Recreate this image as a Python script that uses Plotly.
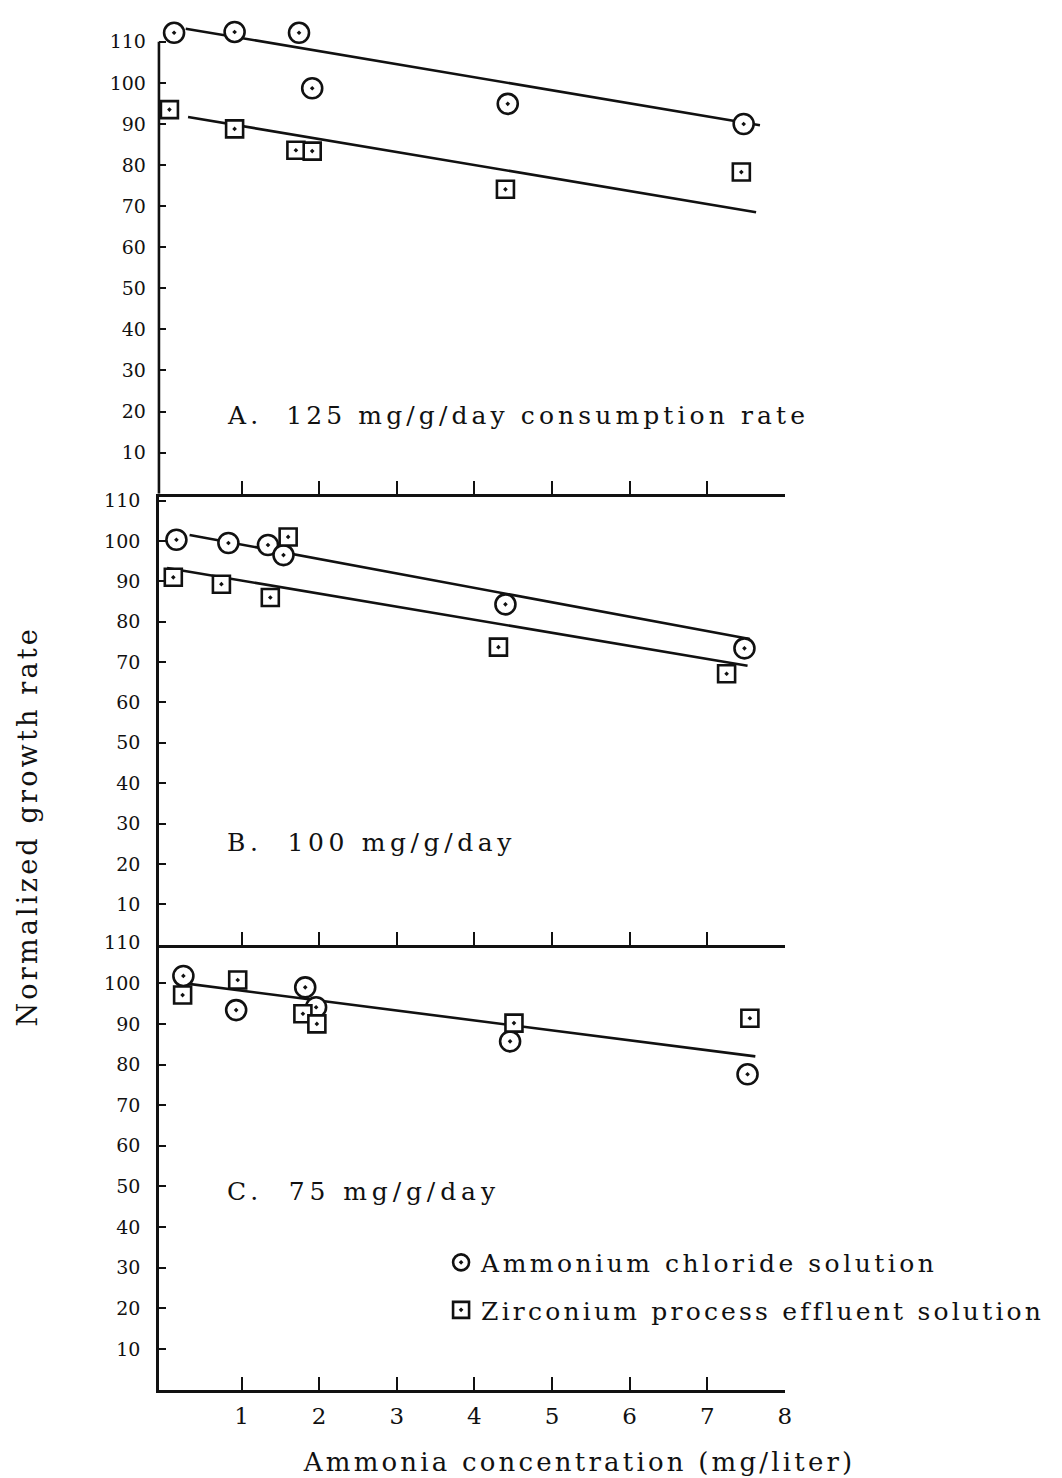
import json
import plotly.graph_objects as go

# ---------------------------------------------------------------
# Data (ammonia concentration in mg/liter vs normalized growth rate)
# ---------------------------------------------------------------
# A. 125 mg/g/day consumption rate
a_cl_x = [0.13, 0.91, 1.74, 1.91, 4.43, 7.47]
a_cl_y = [112.2, 112.4, 112.2, 98.7, 94.9, 90.0]
a_zr_x = [0.07, 0.91, 1.70, 1.91, 4.40, 7.44]
a_zr_y = [93.5, 88.8, 83.6, 83.4, 74.1, 78.3]
a_cl_fit_x = [0.28, 7.68]
a_cl_fit_y = [113.2, 89.7]
a_zr_fit_x = [0.31, 7.63]
a_zr_fit_y = [91.7, 68.5]

# B. 100 mg/g/day
b_cl_x = [0.16, 0.83, 1.34, 1.54, 4.40, 7.48]
b_cl_y = [100.3, 99.5, 99.0, 96.5, 84.3, 73.4]
b_zr_x = [0.12, 0.74, 1.37, 1.60, 4.31, 7.25]
b_zr_y = [91.0, 89.3, 86.0, 101.0, 73.7, 67.1]
b_cl_fit_x = [0.33, 7.55]
b_cl_fit_y = [101.5, 75.7]
b_zr_fit_x = [0.04, 7.52]
b_zr_fit_y = [93.3, 69.1]

# C. 75 mg/g/day
c_cl_x = [0.25, 0.93, 1.82, 1.96, 4.46, 7.52]
c_cl_y = [101.8, 93.4, 99.0, 94.1, 85.7, 77.6]
c_zr_x = [0.24, 0.95, 1.79, 1.97, 4.51, 7.55]
c_zr_y = [97.1, 100.8, 92.5, 90.0, 90.2, 91.4]
c_fit_x = [0.22, 7.62]
c_fit_y = [100.1, 82.0]

x_ticks = [1, 2, 3, 4, 5, 6, 7, 8]
y_ticks = [10, 20, 30, 40, 50, 60, 70, 80, 90, 100, 110]

panel_titles = ["A.  125 mg/g/day consumption rate",
                "B.  100 mg/g/day",
                "C.  75 mg/g/day"]
series_names = ["Ammonium chloride solution",
                "Zirconium process effluent solution"]
y_title = "Normalized growth rate"
x_title = "Ammonia concentration (mg/liter)"

# ---------------------------------------------------------------
# Page geometry (pixels)
# ---------------------------------------------------------------
W, H = 1062, 1478
X_LEFT, X_RIGHT = 160, 790
X_RANGE = [-0.065, 8.0]
# (pixel row of y=0, pixel row of panel top, pixels per unit)
panel_geom = [(487, 5, 4.136), (941, 487, 4.064), (1389, 938, 4.091)]

SERIF = "DejaVu Serif"
INK = "#111111"


def py(px):
    return 1 - px / H


fig = go.Figure()

circle_marker = dict(symbol="circle-dot", size=20, color="white",
                     line=dict(color=INK, width=2.6))
square_marker = dict(symbol="square-dot", size=17, color="white",
                     line=dict(color=INK, width=2.6))
fit_line = dict(color=INK, width=2.6)

panels = [
    (a_cl_x, a_cl_y, a_zr_x, a_zr_y,
     [(a_cl_fit_x, a_cl_fit_y), (a_zr_fit_x, a_zr_fit_y)]),
    (b_cl_x, b_cl_y, b_zr_x, b_zr_y,
     [(b_cl_fit_x, b_cl_fit_y), (b_zr_fit_x, b_zr_fit_y)]),
    (c_cl_x, c_cl_y, c_zr_x, c_zr_y,
     [(c_fit_x, c_fit_y)]),
]

for i, (clx, cly, zrx, zry, fits) in enumerate(panels):
    xa = "x" if i == 0 else f"x{i + 1}"
    ya = "y" if i == 0 else f"y{i + 1}"
    last = i == len(panels) - 1
    for fx, fy in fits:
        fig.add_trace(go.Scatter(x=fx, y=fy, mode="lines", line=fit_line,
                                 xaxis=xa, yaxis=ya, showlegend=False,
                                 hoverinfo="skip"))
    fig.add_trace(go.Scatter(x=clx, y=cly, mode="markers",
                             marker=circle_marker, xaxis=xa, yaxis=ya,
                             name=series_names[0], legendgroup="cl",
                             showlegend=last, cliponaxis=False))
    fig.add_trace(go.Scatter(x=zrx, y=zry, mode="markers",
                             marker=square_marker, xaxis=xa, yaxis=ya,
                             name=series_names[1], legendgroup="zr",
                             showlegend=last, cliponaxis=False))

layout = dict(
    width=W, height=H,
    margin=dict(l=0, r=0, t=0, b=0),
    paper_bgcolor="white", plot_bgcolor="rgba(0,0,0,0)",
    font=dict(family=SERIF, color=INK),
    legend=dict(x=444 / W, y=py(1238), xanchor="left", yanchor="top",
                font=dict(family=SERIF, size=25, color=INK),
                tracegroupgap=12, bgcolor="rgba(0,0,0,0)"),
)

for i, (zero, top, ppu) in enumerate(panel_geom):
    sfx = "" if i == 0 else str(i + 1)
    last = i == len(panel_geom) - 1
    layout[f"xaxis{sfx}"] = dict(
        domain=[X_LEFT / W, X_RIGHT / W], range=X_RANGE,
        anchor=f"y{sfx}", showgrid=False, zeroline=False,
        showline=True, linecolor=INK, linewidth=2.6,
        ticks="inside", ticklen=13, tickwidth=2.2, tickcolor=INK,
        tickvals=x_ticks, showticklabels=last,
        tickfont=dict(family=SERIF, size=23, color=INK),
        ticklabelstandoff=4,
    )
    layout[f"yaxis{sfx}"] = dict(
        domain=[py(zero), py(top)], range=[0, (zero - top) / ppu],
        anchor=f"x{sfx}", showgrid=False, zeroline=False,
        showline=(i > 0), linecolor=INK, linewidth=2.6,
        ticks="inside", ticklen=7, tickwidth=2, tickcolor=INK,
        tickvals=y_ticks,
        tickfont=dict(family=SERIF, size=19, color=INK),
        ticklabelstandoff=12,
    )

fig.update_layout(**layout)

# vertical axis line of the top panel stops at its 110 mark
fig.add_shape(type="line", xref="paper", yref="y", x0=X_LEFT / W,
              x1=X_LEFT / W, y0=0, y1=110,
              line=dict(color=INK, width=2.6))

# panel captions
caption_rows = [408, 838, 1190]
for title, row in zip(panel_titles, caption_rows):
    fig.add_annotation(text=title, xref="paper", yref="paper",
                       x=226 / W, y=py(row), xanchor="left", yanchor="middle",
                       align="left", showarrow=False,
                       font=dict(family=SERIF, size=25, color=INK))

# axis titles
fig.add_annotation(text=y_title, xref="paper", yref="paper",
                   x=28 / W, y=py(822), textangle=-90, showarrow=False,
                   xanchor="center", yanchor="middle",
                   font=dict(family=SERIF, size=27, color=INK))
fig.add_annotation(text=x_title, xref="paper",
                   yref="paper", x=583 / W, y=py(1462), showarrow=False,
                   xanchor="center", yanchor="middle",
                   font=dict(family=SERIF, size=26, color=INK))

# typewriter-style letter spacing for the text labels (px)
letter_spacing = {
    panel_titles[0]: 4.1,
    panel_titles[1]: 4.6,
    panel_titles[2]: 4.9,
    series_names[0]: 3.5,
    series_names[1]: 3.2,
    y_title: 3.2,
    x_title: 3.2,
}
spacing_js = json.dumps({" ".join(k.split()): v
                         for k, v in letter_spacing.items()})
post_script = """
var gd = document.getElementById('{plot_id}');
var sp = %s;
gd.querySelectorAll('text.annotation-text, text.legendtext').forEach(function (t) {
    var key = t.textContent.replace(/\\s+/g, ' ').trim();
    if (sp[key] !== undefined) { t.style.letterSpacing = sp[key] + 'px'; }
});
// the widened legend text must not be clipped by the legend box
gd.querySelectorAll('.legend [clip-path], .legend[clip-path]').forEach(function (e) {
    e.removeAttribute('clip-path');
});
gd.querySelectorAll('.legend rect.bg').forEach(function (r) {
    r.setAttribute('width', '610');
});
""" % spacing_js

fig.write_html("out.html", post_script=post_script)
